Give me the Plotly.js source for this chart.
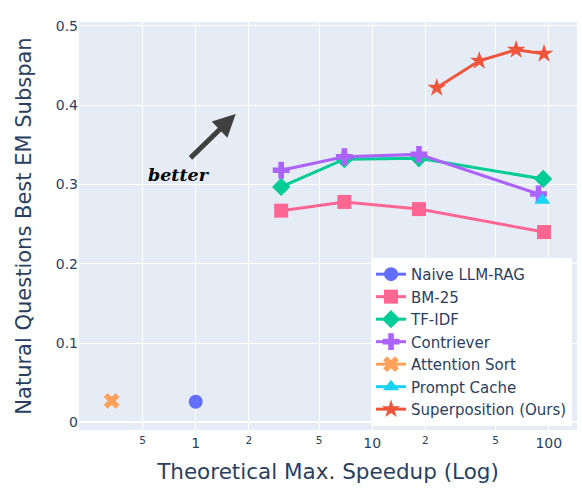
<!DOCTYPE html>
<html><head><meta charset="utf-8">
<script src="https://cdn.plot.ly/plotly-3.0.1.min.js"></script>
<style>html,body{margin:0;padding:0;background:#fff}</style>
</head><body><div id="chart" style="width:582px;height:497px"></div>
<script>
const naiveX = [1.0];            const naiveY = [0.026];
const bm25X = [3.05, 6.95, 18.4, 94]; const bm25Y = [0.267, 0.278, 0.269, 0.240];
const tfidfX = [3.05, 6.95, 18.4, 93]; const tfidfY = [0.297, 0.332, 0.333, 0.307];
const contrX = [3.05, 6.95, 18.4, 87.5]; const contrY = [0.318, 0.335, 0.338, 0.288];
const attnX = [0.334];           const attnY = [0.027];
const cacheX = [92];             const cacheY = [0.280];
const superX = [23.2, 40.4, 65.3, 94]; const superY = [0.422, 0.456, 0.470, 0.465];

function tr(name, x, y, color, symbol) {
  return {type:'scatter', mode:'lines+markers', name:name, x:x, y:y,
    line:{color:color, width:3}, marker:{color:color, symbol:symbol, size:14}};
}
const data = [
  tr('Naive LLM-RAG', naiveX, naiveY, '#636efa', 'circle'),
  tr('BM-25', bm25X, bm25Y, '#FF6692', 'square'),
  tr('TF-IDF', tfidfX, tfidfY, '#00cc96', 'diamond'),
  tr('Contriever', contrX, contrY, '#ab63fa', 'cross'),
  tr('Attention Sort', attnX, attnY, '#FFA15A', 'x'),
  tr('Prompt Cache', cacheX, cacheY, '#19d3f3', 'triangle-up'),
  tr('Superposition (Ours)', superX, superY, '#EF553B', 'star')
];
const layout = {
  width:582, height:497,
  margin:{l:79, r:5, t:22, b:67},
  paper_bgcolor:'#fff', plot_bgcolor:'#E5ECF6',
  font:{family:'"DejaVu Sans", verdana, arial, sans-serif', color:'#2a3f5f', size:14},
  showlegend:true,
  legend:{x:0.99, y:0.01, xanchor:'right', yanchor:'bottom', bgcolor:'#fff', font:{size:15}},
  xaxis:{type:'log', range:[-0.661, 2.16], dtick:'D2', gridcolor:'#fff', linecolor:'#fff',
    zeroline:false, ticks:'', tickfont:{size:14},
    title:{text:'Theoretical Max. Speedup (Log)', font:{size:21.5}, standoff:14}},
  yaxis:{range:[-0.0097, 0.505], dtick:0.1, gridcolor:'#fff', zerolinecolor:'#fff', zerolinewidth:2,
    tickfont:{size:14}, ticks:'',
    title:{text:'Natural Questions Best EM Subspan', font:{size:21}, standoff:18}},
  annotations:[
    {xref:'paper', yref:'paper', x:(235.7-79)/498, y:(430-114)/408, ax:(189-79)/498, ay:(430-159.3)/408,
     axref:'paper', ayref:'paper', showarrow:true, arrowhead:2, arrowsize:0.9, arrowwidth:5, arrowcolor:'#404040', text:''},
    {xref:'paper', yref:'paper', x:(179-79)/498, y:(430-175)/408, xanchor:'center', yanchor:'middle', showarrow:false,
     text:'<b><i>better</i></b>', font:{family:'"DejaVu Serif", "Liberation Serif", serif', size:17.5, color:'#000'}}
  ]
};
Plotly.newPlot('chart', data, layout, {displayModeBar:false});
</script></body></html>
